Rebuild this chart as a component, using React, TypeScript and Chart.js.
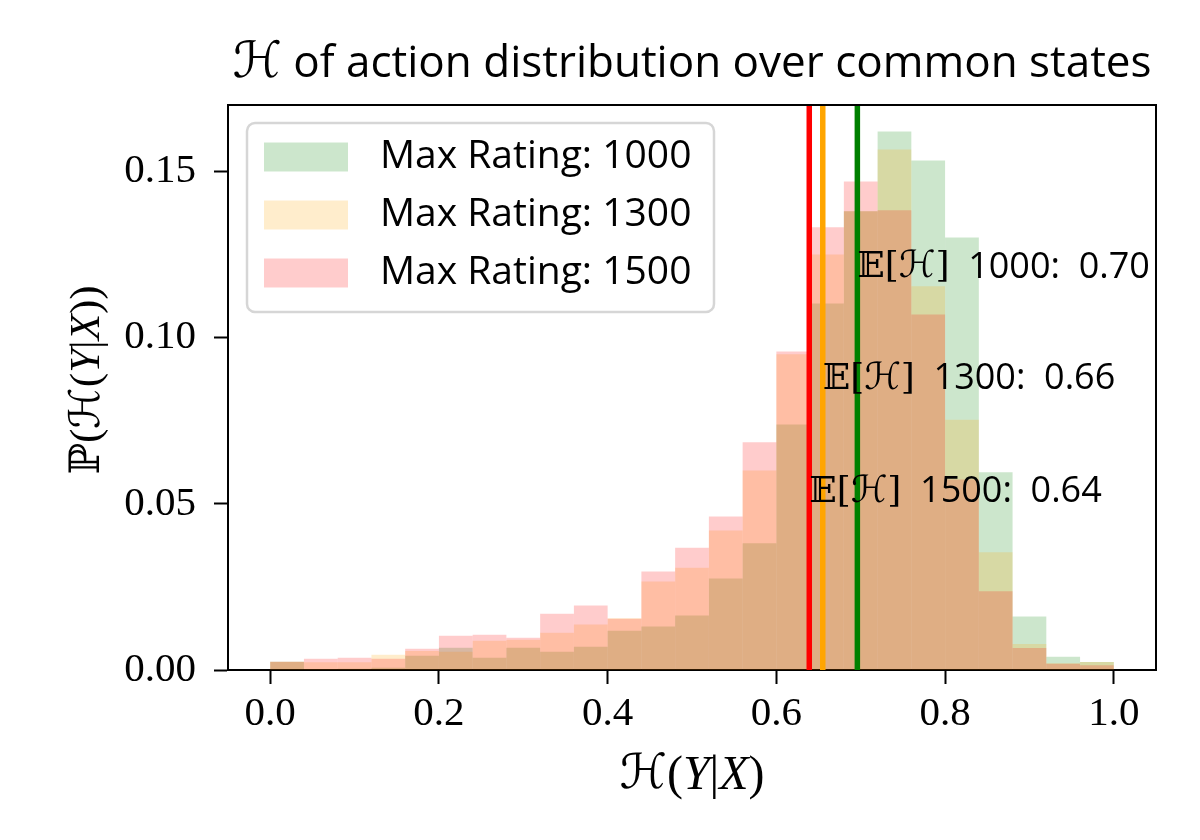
import React, { useEffect, useRef } from "react";
import { Chart, registerables } from "chart.js";

Chart.register(...registerables);

// ---- data ----
const binCenters = [0.02, 0.06, 0.10, 0.14, 0.18, 0.22, 0.26, 0.30, 0.34, 0.38, 0.42, 0.46, 0.50, 0.54, 0.58, 0.62, 0.66, 0.70, 0.74, 0.78, 0.82, 0.86, 0.90, 0.94, 0.98];
const rating1000 = [0.0025, 0.0003, 0.0004, 0.0007, 0.0043, 0.0067, 0.0037, 0.0067, 0.0055, 0.0070, 0.0118, 0.0131, 0.0164, 0.0275, 0.0381, 0.0739, 0.1103, 0.1380, 0.1620, 0.1533, 0.1301, 0.0595, 0.0161, 0.0040, 0.0024];
const rating1300 = [0.0025, 0.0023, 0.0023, 0.0046, 0.0057, 0.0055, 0.0088, 0.0091, 0.0112, 0.0137, 0.0156, 0.0266, 0.0308, 0.0420, 0.0600, 0.0950, 0.1250, 0.1380, 0.1566, 0.1155, 0.0753, 0.0354, 0.0078, 0.0020, 0.0024];
const rating1500 = [0.0025, 0.0034, 0.0037, 0.0034, 0.0064, 0.0103, 0.0106, 0.0097, 0.0169, 0.0194, 0.0154, 0.0296, 0.0368, 0.0462, 0.0685, 0.0958, 0.1332, 0.1470, 0.1383, 0.1070, 0.0573, 0.0237, 0.0066, 0.0019, 0.0014];
const seriesLabels = ["Max Rating: 1000", "Max Rating: 1300", "Max Rating: 1500"];
const ratingNames = ["1000", "1300", "1500"];
const meanValues = [0.696, 0.655, 0.639];
const meanLabels = ["0.70", "0.66", "0.64"];
const meanTextY = [0.121, 0.0875, 0.0535];
const xTicks = [0.0, 0.2, 0.4, 0.6, 0.8, 1.0];
const yTicks = [0.0, 0.05, 0.10, 0.15];

// ---- styles ----
const fills = ["rgba(0,128,0,0.2)", "rgba(255,165,0,0.2)", "rgba(255,0,0,0.2)"];
const lineColors = ["#008000", "#ffa500", "#ff0000"];
const SANS = "'Open Sans', 'DejaVu Sans', sans-serif";
const SERIF = "'Liberation Serif', 'DejaVu Serif', serif";
const MATH = "'DejaVu Serif', 'DejaVu Sans', serif";

type Piece = { t: string; font: string };

function piecesWidth(ctx: CanvasRenderingContext2D, pieces: Piece[]) {
  let w = 0;
  for (const p of pieces) {
    ctx.font = p.font;
    w += ctx.measureText(p.t).width;
  }
  return w;
}

function drawPieces(ctx: CanvasRenderingContext2D, pieces: Piece[], x: number, y: number, align: "left" | "center") {
  const total = piecesWidth(ctx, pieces);
  let cx = align === "center" ? x - total / 2 : x;
  ctx.textAlign = "left";
  for (const p of pieces) {
    ctx.font = p.font;
    ctx.fillText(p.t, cx, y);
    cx += ctx.measureText(p.t).width;
  }
}

const overlayPlugin = {
  id: "overlay",
  afterDatasetsDraw(chart: any) {
    const { ctx, chartArea: a, scales } = chart;
    const xs = scales.x;
    const ys = scales.y;
    ctx.save();
    // mean lines
    meanValues.forEach((m, i) => {
      const px = xs.getPixelForValue(m);
      ctx.strokeStyle = lineColors[i];
      ctx.lineWidth = 5.5;
      ctx.beginPath();
      ctx.moveTo(px, a.top);
      ctx.lineTo(px, a.bottom);
      ctx.stroke();
    });
    // annotation texts
    ctx.fillStyle = "#000";
    ctx.textBaseline = "middle";
    meanValues.forEach((m, i) => {
      const px = xs.getPixelForValue(m);
      const py = ys.getPixelForValue(meanTextY[i]);
      drawPieces(
        ctx,
        [
          { t: "\u{1D53C}[", font: `36px ${MATH}` },
          { t: "\u210B", font: `italic 37px ${MATH}` },
          { t: "]", font: `36px ${MATH}` },
          { t: `  ${ratingNames[i]}:  ${meanLabels[i]}`, font: `36px ${SANS}` },
        ],
        px,
        py,
        "left"
      );
    });
    // frame top & right
    ctx.strokeStyle = "#000";
    ctx.lineWidth = 2;
    ctx.beginPath();
    ctx.moveTo(a.left, a.top);
    ctx.lineTo(a.right, a.top);
    ctx.lineTo(a.right, a.bottom);
    ctx.stroke();
    // legend
    const lx = 247, ly = 123, lw = 467, lh = 189, r = 8;
    ctx.fillStyle = "rgba(255,255,255,0.8)";
    ctx.strokeStyle = "#d6d6d6";
    ctx.lineWidth = 2.5;
    ctx.beginPath();
    ctx.roundRect(lx, ly, lw, lh, r);
    ctx.fill();
    ctx.stroke();
    const rowY = [157, 215, 273];
    seriesLabels.forEach((lab, i) => {
      ctx.fillStyle = fills[i];
      ctx.fillRect(264, rowY[i] - 14.5, 84, 29);
      ctx.fillStyle = "#000";
      ctx.font = `39px ${SANS}`;
      ctx.textBaseline = "middle";
      ctx.textAlign = "left";
      ctx.fillText(lab, 380, rowY[i]);
    });
    ctx.restore();
  },
  afterDraw(chart: any) {
    const { ctx, chartArea: a } = chart;
    ctx.save();
    ctx.fillStyle = "#000";
    ctx.textBaseline = "alphabetic";
    // title
    drawPieces(
      ctx,
      [
        { t: "\u210B", font: `italic 50px ${MATH}` },
        { t: " of action distribution over common states", font: `44px ${SANS}` },
      ],
      (a.left + a.right) / 2,
      77,
      "center"
    );
    // x axis title
    ctx.textBaseline = "middle";
    drawPieces(
      ctx,
      [
        { t: "\u210B", font: `italic 48px ${MATH}` },
        { t: "(", font: `48px ${SERIF}` },
        { t: "Y", font: `italic 48px ${SERIF}` },
        { t: "|", font: `48px ${SERIF}` },
        { t: "X", font: `italic 48px ${SERIF}` },
        { t: ")", font: `48px ${SERIF}` },
      ],
      (a.left + a.right) / 2,
      776,
      "center"
    );
    // y axis title
    ctx.translate(88, 380);
    ctx.rotate(-Math.PI / 2);
    drawPieces(
      ctx,
      [
        { t: "\u2119", font: `42px ${MATH}` },
        { t: "(", font: `43px ${SERIF}` },
        { t: "\u210B", font: `italic 42px ${MATH}` },
        { t: "(", font: `43px ${SERIF}` },
        { t: "Y", font: `italic 43px ${SERIF}` },
        { t: "|", font: `43px ${SERIF}` },
        { t: "X", font: `italic 43px ${SERIF}` },
        { t: "))", font: `43px ${SERIF}` },
      ],
      0,
      0,
      "center"
    );
    ctx.restore();
  },
};

export default function App() {
  const canvasRef = useRef<HTMLCanvasElement | null>(null);

  useEffect(() => {
    const canvas = canvasRef.current;
    if (!canvas) return;
    const seriesValues = [rating1000, rating1300, rating1500];
    const datasets = seriesValues.map((vals, i) => ({
      label: seriesLabels[i],
      data: binCenters.map((c, j) => ({ x: c, y: vals[j] })),
      backgroundColor: fills[i],
      borderWidth: 0,
      inflateAmount: 0,
      barPercentage: 1,
      categoryPercentage: 1,
      grouped: false,
      order: 3 - i,
    }));
    const chart = new Chart(canvas, {
      type: "bar",
      data: { datasets },
      options: {
        animation: false,
        responsive: false,
        devicePixelRatio: 1,
        layout: { padding: { top: 105, right: 44, left: 0, bottom: 0 } },
        plugins: {
          legend: { display: false },
          title: { display: false },
          tooltip: { enabled: false },
        },
        scales: {
          x: {
            type: "linear",
            min: -0.05,
            max: 1.05,
            offset: false,
            afterBuildTicks: (s: any) => {
              s.ticks = xTicks.map((v) => ({ value: v }));
            },
            afterFit: (s: any) => {
              s.height = 170;
            },
            grid: { display: true, offset: false, drawOnChartArea: false, drawTicks: true, tickLength: 14, tickWidth: 2, tickColor: "#000" },
            border: { display: true, color: "#000", width: 2 },
            ticks: {
              padding: 6,
              color: "#000",
              font: { family: SERIF, size: 41 },
              maxRotation: 0,
              callback: (v: any) => Number(v).toFixed(1),
            },
          },
          y: {
            type: "linear",
            min: 0,
            max: 0.17,
            afterBuildTicks: (s: any) => {
              s.ticks = yTicks.map((v) => ({ value: v }));
            },
            afterFit: (s: any) => {
              s.width = 228;
            },
            grid: { display: true, offset: false, drawOnChartArea: false, drawTicks: true, tickLength: 14, tickWidth: 2, tickColor: "#000" },
            border: { display: true, color: "#000", width: 2 },
            ticks: {
              padding: 18,
              color: "#000",
              font: { family: SERIF, size: 41 },
              callback: (v: any) => Number(v).toFixed(2),
            },
          },
        },
      },
      plugins: [overlayPlugin],
    } as any);
    return () => chart.destroy();
  }, []);

  return (
    <div style={{ position: "absolute", left: 0, top: 0, width: 1200, height: 840, background: "#fff" }}>
      <canvas ref={canvasRef} width={1200} height={840} style={{ width: 1200, height: 840, display: "block" }} />
    </div>
  );
}
